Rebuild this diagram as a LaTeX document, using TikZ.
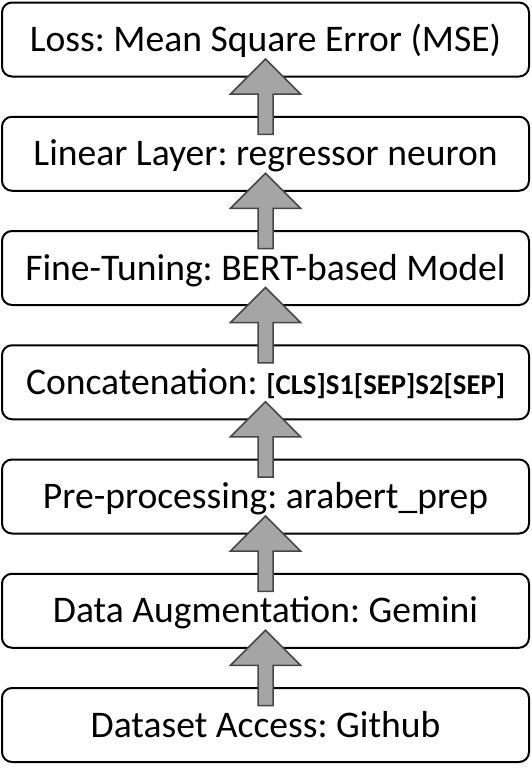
\documentclass[tikz,border=0pt]{standalone}
\usepackage{fontspec}
\setmainfont{Carlito}
\usetikzlibrary{positioning, calc}
\definecolor{gray1}{RGB}{165, 165, 165}
\definecolor{gray2}{RGB}{70, 70, 70}
\frenchspacing

\begin{document}
\begin{tikzpicture}[node distance=40.25pt,
    box/.style={rectangle, draw, line width=2pt, rounded corners=10pt, minimum width=527pt, minimum height=74pt,
        inner sep=0pt, outer sep=0pt, text height=24pt, text depth=0pt, font=\fontsize{37.6}{44}\selectfont},
    uparrow/.style={draw=gray2, fill=gray1, line width=1.5pt,
        to path={($(\tikztostart)+(-7.5pt,-17.5pt)$) -- ($(\tikztostart)+(7.5pt,-17.5pt)$)
            -- ($(\tikztotarget)+(7.5pt,-17.5pt)$) -- ($(\tikztotarget)+(35pt,-17.5pt)$)
            -- ($(\tikztotarget)+(0pt,17.5pt)$) -- ($(\tikztotarget)+(-35pt,-17.5pt)$)
            -- ($(\tikztotarget)+(-7.5pt,-17.5pt)$) -- cycle}}]
    \useasboundingbox (0,0) rectangle (531pt,-771pt);
    \node[box] (loss) at (265.5pt,-39.5pt) {Loss: Mean Square Error (MSE)};
    \node[box, below=of loss] (linear) {Linear Layer: regressor neuron};
    \node[box, below=of linear] (tune) {Fine-Tuning: BERT-based Model};
    \node[box, below=of tune] (concat) {Concatenation: {\bfseries\fontsize{28.7}{34}\selectfont [CLS]S1[SEP]S2[SEP]}};
    \node[box, below=of concat] (prep) {Pre-processing: arabert\_prep};
    \node[box, below=of prep] (aug) {Data Augmentation: Gemini};
    \node[box, below=of aug] (data) {Dataset Access: Github};
    \draw[uparrow] (data.north) to (aug.south);
    \draw[uparrow] (aug.north) to (prep.south);
    \draw[uparrow] (prep.north) to (concat.south);
    \draw[uparrow] (concat.north) to (tune.south);
    \draw[uparrow] (tune.north) to (linear.south);
    \draw[uparrow] (linear.north) to (loss.south);
\end{tikzpicture}
\end{document}
